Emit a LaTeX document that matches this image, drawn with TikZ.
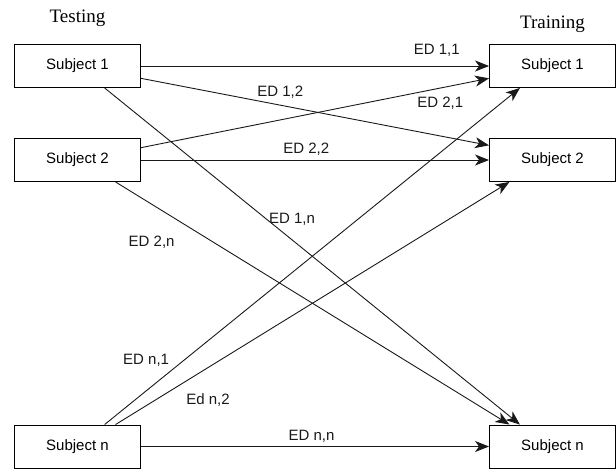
\documentclass[tikz,border=0pt]{standalone}
\usepackage{fontspec}
\setmainfont{Liberation Serif}
\setsansfont{Liberation Sans}
\usetikzlibrary{arrows.meta,positioning}

\begin{document}
\begin{tikzpicture}[x=1pt,y=-1pt,>={Stealth[length=14pt,width=11pt,inset=4pt]},
    box/.style={draw,line width=0.9pt,minimum width=126pt,minimum height=43pt,on grid,
      font=\sffamily\fontsize{15}{18}\selectfont},
    head/.style={inner sep=2pt,font=\fontsize{19}{22}\selectfont},
    edlabel/.style={inner sep=2pt,font=\sffamily\fontsize{15}{18}\selectfont},
    every edge/.style={draw,line width=0.9pt,black!90}]
  \useasboundingbox (0,0) rectangle (616,469);
  % testing side
  \node[box] (s1l) at (77.5,66) {Subject 1};
  \node[box,below=94pt of s1l] (s2l) {Subject 2};
  \node[box,below=286.5pt of s2l] (snl) {Subject n};
  % training side
  \node[box,right=475pt of s1l] (s1r) {Subject 1};
  \node[box,right=475pt of s2l] (s2r) {Subject 2};
  \node[box,right=475pt of snl] (snr) {Subject n};
  \node[head,above=15pt of s1l] (testing) {Testing};
  \node[head,above=9pt of s1r] (training) {Training};
  % distances
  \path[->] (s1l.east) edge node[edlabel,pos=0.85,above=7.5pt] {ED 1,1} (s1r.west)
    (s1l.-11) edge node[edlabel,pos=0.4,above=4.5pt] {ED 1,2} (s2r.167.5)
    (s2l.11.7) edge node[edlabel,pos=0.86,below=6.5pt] {ED 2,1} (s1r.-169)
    (s2l.east) edge node[edlabel,pos=0.475,above=2.5pt] {ED 2,2} (s2r.west)
    (s1l.-39) edge node[edlabel,pos=0.39,anchor=west] {ED 1,n} (snr.146.5)
    (s2l.-30) edge node[edlabel,pos=0.25,left=37pt] {ED 2,n} (snr.153)
    (snl.39) edge node[edlabel,pos=0.19,left=12pt] {ED n,1} (s1r.214.3)
    (snl.30) edge node[edlabel,pos=0.1,right=29pt] {Ed n,2} (s2r.207.4)
    (snl.east) edge node[edlabel,pos=0.49,above=1.5pt] {ED n,n} (snr.west);
\end{tikzpicture}
\end{document}
